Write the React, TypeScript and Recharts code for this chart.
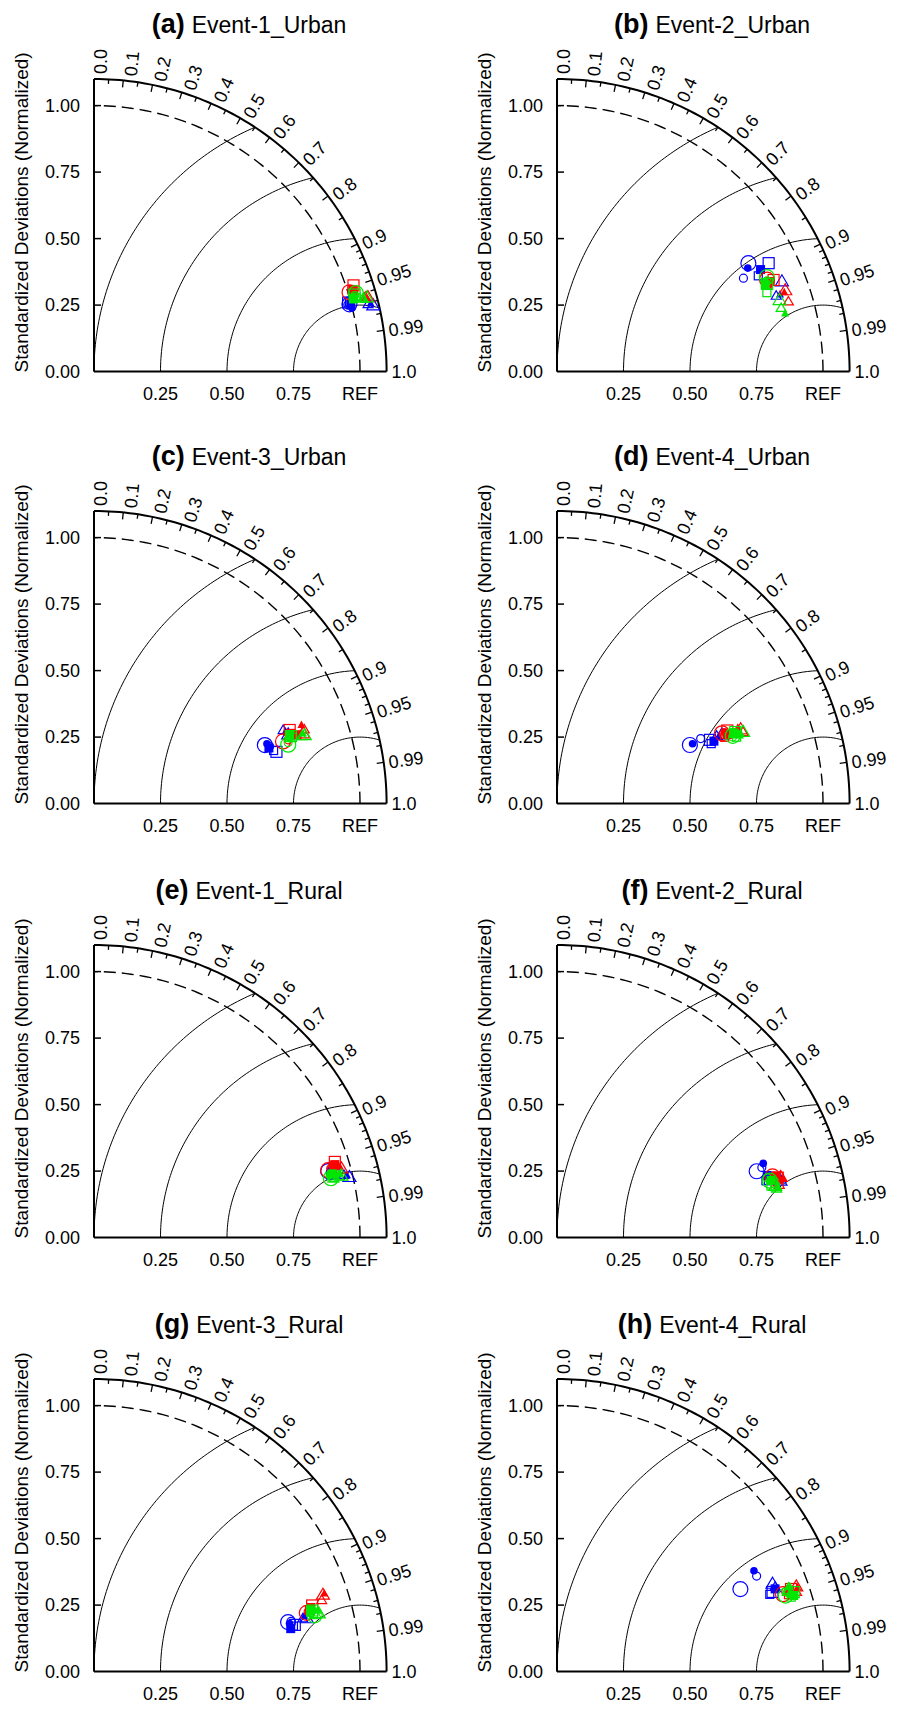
import React from 'react';
import { ScatterChart, Scatter, XAxis, YAxis } from 'recharts';

const FONT = '"Liberation Sans", Arial, Helvetica, sans-serif';

// Taylor diagram geometry
const MAX_STD = 1.1;
const PX_PER_UNIT = 266;
const PLOT = MAX_STD * PX_PER_UNIT;
const ML = 90;
const MT = 70;
const Y_AXIS_W = 60;
const X_AXIS_H = 36;
const CHART_W = 425;
const MR = CHART_W - ML - PLOT;
const CHART_H = MT + PLOT + X_AXIS_H;

// Marker order inside each colour group
const markerKinds = [
  'bigCircle', 'dot', 'smallCircle',
  'bigSquare', 'filledSquare', 'smallSquare',
  'bigTriangle', 'filledTriangle', 'smallTriangle',
];
const groupColors = ['#0000ff', '#ff0000', '#00e600'];

// Normalised standard deviation and correlation, 27 cases per event:
// blue group (9), red group (9), green group (9)
const stdA = [0.993, 0.999, 0.987, 0.990, 0.997, 0.995, 1.079, 1.071, 1.061,
  1.006, 1.020, 1.014, 1.028, 1.022, 1.018, 1.067, 1.061, 1.058,
  1.028, 1.014, 1.021, 1.022, 1.013, 1.024, 1.063, 1.055, 1.047];
const corrA = [0.967, 0.971, 0.967, 0.965, 0.968, 0.965, 0.973, 0.971, 0.971,
  0.955, 0.956, 0.957, 0.949, 0.954, 0.953, 0.965, 0.966, 0.964,
  0.958, 0.961, 0.960, 0.959, 0.963, 0.962, 0.965, 0.967, 0.965];

const stdB = [0.827, 0.816, 0.784, 0.894, 0.856, 0.838, 0.911, 0.887, 0.872,
  0.862, 0.867, 0.861, 0.884, 0.870, 0.854, 0.911, 0.905, 0.909,
  0.865, 0.854, 0.860, 0.856, 0.848, 0.843, 0.879, 0.885, 0.876];
const corrB = [0.870, 0.879, 0.894, 0.890, 0.894, 0.903, 0.928, 0.945, 0.945,
  0.916, 0.922, 0.924, 0.921, 0.921, 0.925, 0.942, 0.944, 0.957,
  0.912, 0.920, 0.918, 0.923, 0.923, 0.936, 0.952, 0.969, 0.962];

const stdC = [0.679, 0.688, 0.694, 0.713, 0.690, 0.704, 0.775, 0.769, 0.763,
  0.748, 0.781, 0.768, 0.786, 0.806, 0.786, 0.830, 0.834, 0.838,
  0.763, 0.775, 0.765, 0.783, 0.780, 0.786, 0.833, 0.829, 0.821];
const corrC = [0.946, 0.945, 0.951, 0.962, 0.953, 0.959, 0.942, 0.936, 0.932,
  0.950, 0.947, 0.950, 0.936, 0.947, 0.942, 0.948, 0.935, 0.943,
  0.957, 0.949, 0.954, 0.946, 0.943, 0.948, 0.951, 0.948, 0.951];

const stdD = [0.546, 0.557, 0.593, 0.623, 0.635, 0.622, 0.672, 0.659, 0.652,
  0.674, 0.685, 0.677, 0.697, 0.691, 0.678, 0.745, 0.737, 0.750,
  0.708, 0.714, 0.706, 0.722, 0.716, 0.720, 0.750, 0.739, 0.728];
const corrD = [0.915, 0.915, 0.911, 0.923, 0.929, 0.932, 0.922, 0.925, 0.920,
  0.920, 0.919, 0.923, 0.919, 0.927, 0.930, 0.927, 0.922, 0.933,
  0.933, 0.931, 0.935, 0.928, 0.929, 0.938, 0.933, 0.934, 0.934];

const stdE = [0.915, 0.918, 0.922, 0.932, 0.929, 0.921, 0.987, 0.979, 0.969,
  0.916, 0.935, 0.927, 0.949, 0.946, 0.940, 0.966, 0.962, 0.955,
  0.918, 0.916, 0.919, 0.929, 0.927, 0.928, 0.959, 0.956, 0.948];
const corrE = [0.962, 0.964, 0.966, 0.966, 0.963, 0.967, 0.973, 0.971, 0.970,
  0.961, 0.957, 0.960, 0.954, 0.957, 0.958, 0.963, 0.961, 0.964,
  0.970, 0.967, 0.968, 0.969, 0.966, 0.970, 0.970, 0.968, 0.970];

const stdF = [0.791, 0.824, 0.814, 0.830, 0.824, 0.814, 0.867, 0.873, 0.859,
  0.842, 0.848, 0.850, 0.860, 0.857, 0.847, 0.871, 0.879, 0.859,
  0.828, 0.827, 0.821, 0.834, 0.833, 0.842, 0.843, 0.852, 0.846];
const corrF = [0.949, 0.941, 0.946, 0.964, 0.959, 0.965, 0.969, 0.968, 0.967,
  0.962, 0.961, 0.964, 0.965, 0.963, 0.969, 0.965, 0.967, 0.973,
  0.966, 0.967, 0.962, 0.971, 0.966, 0.974, 0.973, 0.975, 0.976];

const stdG = [0.753, 0.757, 0.764, 0.775, 0.757, 0.769, 0.825, 0.817, 0.810,
  0.830, 0.843, 0.836, 0.857, 0.850, 0.842, 0.908, 0.914, 0.897,
  0.856, 0.841, 0.844, 0.852, 0.847, 0.853, 0.873, 0.871, 0.862];
const corrG = [0.969, 0.971, 0.969, 0.974, 0.977, 0.975, 0.970, 0.967, 0.969,
  0.964, 0.960, 0.963, 0.957, 0.959, 0.962, 0.948, 0.947, 0.954,
  0.969, 0.964, 0.965, 0.963, 0.962, 0.968, 0.968, 0.965, 0.968];

const stdH = [0.756, 0.832, 0.832, 0.864, 0.877, 0.851, 0.875, 0.886, 0.880,
  0.898, 0.924, 0.911, 0.933, 0.927, 0.917, 0.955, 0.958, 0.949,
  0.906, 0.927, 0.919, 0.939, 0.935, 0.924, 0.924, 0.932, 0.916];
const corrH = [0.912, 0.890, 0.902, 0.938, 0.935, 0.940, 0.926, 0.937, 0.932,
  0.946, 0.942, 0.944, 0.943, 0.944, 0.949, 0.942, 0.944, 0.949,
  0.949, 0.950, 0.947, 0.948, 0.952, 0.953, 0.942, 0.939, 0.945];

// Axis ticks
const stdTicks = [0, 0.25, 0.5, 0.75, 1.0];
const refTicks = [0.25, 0.5, 0.75, 1.0];
const rmsRadii = [0.25, 0.5, 0.75, 1.0];
const corrLabels = [0, 0.1, 0.2, 0.3, 0.4, 0.5, 0.6, 0.7, 0.8, 0.9, 0.95, 0.99, 1.0];
const corrMinor = [0.05, 0.15, 0.25, 0.35, 0.45, 0.55, 0.65, 0.75, 0.85,
  0.91, 0.92, 0.93, 0.94, 0.96, 0.97, 0.98];

// Panel layout: position of the diagram origin on the page
const panels = [
  { tag: '(a)', title: 'Event-1_Urban', std: stdA, corr: corrA, ox: 94.3, oy: 371.7 },
  { tag: '(b)', title: 'Event-2_Urban', std: stdB, corr: corrB, ox: 557.3, oy: 371.7 },
  { tag: '(c)', title: 'Event-3_Urban', std: stdC, corr: corrC, ox: 94.3, oy: 803.8 },
  { tag: '(d)', title: 'Event-4_Urban', std: stdD, corr: corrD, ox: 557.3, oy: 803.8 },
  { tag: '(e)', title: 'Event-1_Rural', std: stdE, corr: corrE, ox: 94.3, oy: 1237.8 },
  { tag: '(f)', title: 'Event-2_Rural', std: stdF, corr: corrF, ox: 557.3, oy: 1237.8 },
  { tag: '(g)', title: 'Event-3_Rural', std: stdG, corr: corrG, ox: 94.3, oy: 1671.9 },
  { tag: '(h)', title: 'Event-4_Rural', std: stdH, corr: corrH, ox: 557.3, oy: 1671.9 },
];

// Polar (std, corr) -> Cartesian diagram coordinates
const toXY = (s: number, r: number) => ({ x: s * r, y: s * Math.sqrt(Math.max(0, 1 - r * r)) });

const arcPoints = (radius: number) => {
  const pts = [];
  for (let d = 0; d <= 90; d += 1) {
    const t = (d * Math.PI) / 180;
    pts.push({ x: radius * Math.cos(t), y: radius * Math.sin(t) });
  }
  return pts;
};

// Centred-RMS circles around REF, cut at the outer boundary
const rmsArc = (r: number) => {
  const cosEnd = (MAX_STD * MAX_STD - 1 - r * r) / (2 * r);
  const phiEnd = Math.acos(Math.max(-1, Math.min(1, cosEnd)));
  const pts = [];
  const n = 80;
  for (let i = 0; i <= n; i++) {
    const phi = Math.PI - ((Math.PI - phiEnd) * i) / n;
    pts.push({ x: 1 + r * Math.cos(phi), y: r * Math.sin(phi) });
  }
  return pts;
};

const outerArc = arcPoints(MAX_STD);
const refArc = arcPoints(1.0);
const rmsArcs = rmsRadii.map(rmsArc);

const corrTickData = [
  ...corrLabels.map((c) => ({
    ...toXY(MAX_STD, c),
    corr: c,
    major: true,
    tick: c > 0 && c < 1,
    label: c === 0.95 || c === 0.99 ? c.toFixed(2) : c.toFixed(1),
  })),
  ...corrMinor.map((c) => ({ ...toXY(MAX_STD, c), corr: c, major: false, tick: true, label: null })),
];

const stdTickData = stdTicks.filter((v) => v > 0).map((v) => ({ x: 0, y: v }));

const NoShape = () => <g />;

const StdTickShape = (props: any) => {
  const { cx, cy } = props;
  return <line x1={cx} y1={cy} x2={cx + 7} y2={cy} stroke="#000" strokeWidth={1.5} />;
};

const CorrTickShape = (props: any) => {
  const { cx, cy, payload } = props;
  const th = Math.acos(payload.corr);
  const c = Math.cos(th);
  const s = Math.sin(th);
  const len = payload.major ? 7 : 4.5;
  const off = 7 * s;
  const gap = 5;
  const lx = cx + gap * c + off * s;
  const ly = cy - gap * s + off * c;
  return (
    <g>
      {payload.tick && (
        <line x1={cx} y1={cy} x2={cx - len * c} y2={cy + len * s} stroke="#000" strokeWidth={1.3} />
      )}
      {payload.label && (
        <text
          x={lx}
          y={ly}
          transform={`rotate(${(-th * 180) / Math.PI} ${lx} ${ly})`}
          fontSize={18}
          fontFamily={FONT}
          dominantBaseline="central"
          fill="#000"
        >
          {payload.label}
        </text>
      )}
    </g>
  );
};

const MarkerShape = (props: any) => {
  const { cx, cy, payload } = props;
  const col = payload.color;
  const sw = 1.2;
  switch (payload.kind) {
    case 'bigCircle':
      return <circle cx={cx} cy={cy} r={7.5} fill="none" stroke={col} strokeWidth={sw} />;
    case 'dot':
      return <circle cx={cx} cy={cy} r={3.8} fill={col} />;
    case 'smallCircle':
      return <circle cx={cx} cy={cy} r={4} fill="none" stroke={col} strokeWidth={sw} />;
    case 'bigSquare':
      return <rect x={cx - 5.5} y={cy - 5.5} width={11} height={11} fill="none" stroke={col} strokeWidth={sw} />;
    case 'filledSquare':
      return <rect x={cx - 4.5} y={cy - 4.5} width={9} height={9} fill={col} />;
    case 'smallSquare':
      return <rect x={cx - 4} y={cy - 4} width={8} height={8} fill="none" stroke={col} strokeWidth={sw} />;
    case 'bigTriangle':
      return (
        <polygon
          points={`${cx},${cy - 6.5} ${cx + 6.5},${cy + 4.5} ${cx - 6.5},${cy + 4.5}`}
          fill="none"
          stroke={col}
          strokeWidth={sw}
        />
      );
    case 'filledTriangle':
      return <polygon points={`${cx},${cy - 4.5} ${cx + 4},${cy + 3} ${cx - 4},${cy + 3}`} fill={col} />;
    default:
      return (
        <polygon
          points={`${cx},${cy - 5} ${cx + 5},${cy + 3.5} ${cx - 5},${cy + 3.5}`}
          fill="none"
          stroke={col}
          strokeWidth={sw}
        />
      );
  }
};

const tickStyle = { fill: '#000', fontSize: 18, fontFamily: FONT };

function TaylorPanel({ p }: { p: (typeof panels)[number] }) {
  const groups = groupColors.map((color, g) =>
    markerKinds.map((kind, k) => {
      const i = g * markerKinds.length + k;
      return { ...toXY(p.std[i], p.corr[i]), kind, color };
    })
  );
  const left = p.ox - ML;
  const top = p.oy - PLOT - MT;
  return (
    <div style={{ position: 'absolute', left, top, width: CHART_W, height: CHART_H }}>
      <ScatterChart
        width={CHART_W}
        height={CHART_H}
        margin={{ top: MT, left: ML - Y_AXIS_W, right: MR, bottom: 0 }}
        style={{ overflow: 'visible' }}
      >
        <XAxis
          type="number"
          dataKey="x"
          domain={[0, MAX_STD]}
          ticks={refTicks}
          interval={0}
          tickFormatter={(v: number) => (v === 1 ? 'REF' : v.toFixed(2))}
          height={X_AXIS_H}
          tickSize={0}
          tickMargin={16}
          tickLine={false}
          axisLine={{ stroke: '#000', strokeWidth: 2 }}
          tick={tickStyle}
        />
        <YAxis
          type="number"
          dataKey="y"
          domain={[0, MAX_STD]}
          ticks={stdTicks}
          interval={0}
          tickFormatter={(v: number) => v.toFixed(2)}
          width={Y_AXIS_W}
          tickSize={0}
          tickMargin={14}
          tickLine={false}
          axisLine={{ stroke: '#000', strokeWidth: 2 }}
          tick={tickStyle}
        />
        {rmsArcs.map((arc, i) => (
          <Scatter
            key={`rms${i}`}
            data={arc}
            line={{ stroke: '#000', strokeWidth: 1 }}
            lineType="joint"
            shape={NoShape}
            isAnimationActive={false}
          />
        ))}
        <Scatter
          data={refArc}
          line={{ stroke: '#000', strokeWidth: 1.4, strokeDasharray: '12 6' }}
          lineType="joint"
          shape={NoShape}
          isAnimationActive={false}
        />
        <Scatter
          data={outerArc}
          line={{ stroke: '#000', strokeWidth: 2 }}
          lineType="joint"
          shape={NoShape}
          isAnimationActive={false}
        />
        <Scatter data={stdTickData} shape={StdTickShape} isAnimationActive={false} />
        <Scatter data={corrTickData} shape={CorrTickShape} isAnimationActive={false} />
        {groups.map((g, i) => (
          <Scatter key={`grp${i}`} data={g} shape={MarkerShape} isAnimationActive={false} />
        ))}
      </ScatterChart>
      <svg
        width={CHART_W}
        height={CHART_H}
        style={{ position: 'absolute', left: 0, top: 0, overflow: 'visible', pointerEvents: 'none' }}
      >
        <text x={ML + 155} y={MT + PLOT - 338.4} textAnchor="middle" fontFamily={FONT} fill="#000">
          <tspan fontSize={27} fontWeight="bold">{p.tag}</tspan>
          <tspan fontSize={23} dx={7}>{p.title}</tspan>
        </text>
        <text
          x={ML - 72.6}
          y={MT + PLOT - 159.2}
          transform={`rotate(-90 ${ML - 72.6} ${MT + PLOT - 159.2})`}
          textAnchor="middle"
          dominantBaseline="central"
          fontFamily={FONT}
          fontSize={19}
          fill="#000"
        >
          Standardized Deviations (Normalized)
        </text>
      </svg>
    </div>
  );
}

export default function App() {
  return (
    <div
      style={{
        position: 'absolute',
        left: 0,
        top: 0,
        width: 903,
        height: 1711,
        overflow: 'hidden',
        background: '#fff',
      }}
    >
      {panels.map((p) => (
        <TaylorPanel key={p.tag} p={p} />
      ))}
    </div>
  );
}
